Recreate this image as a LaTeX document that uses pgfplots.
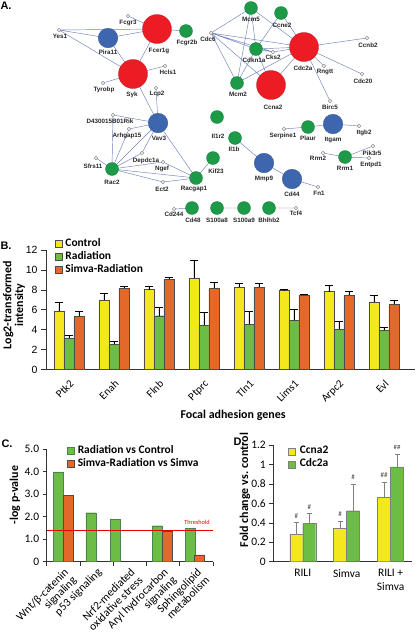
\documentclass[border=0pt]{standalone}
\usepackage{fontspec}
\setmainfont{Carlito}
\newfontfamily\arial{Liberation Sans}
\usepackage{pgfplots}
\pgfplotsset{compat=1.18}
\usepackage{pgfplotstable}
\definecolor{cY}{HTML}{F2E81C}
\definecolor{cG}{HTML}{6CBD45}
\definecolor{cO}{HTML}{E2692A}
\definecolor{nR}{HTML}{EC1C24}
\definecolor{nB}{HTML}{3E66AE}
\definecolor{nG}{HTML}{1C9A48}
\definecolor{eC}{HTML}{6F80BE}
\pgfplotsset{
  sq/.style={legend image code/.code={\draw[##1] (0bp,-3.5bp) rectangle (7bp,3.5bp);}},
}
\tikzset{lab/.style={font=\arial\bfseries\fontsize{6.3}{7}\selectfont, inner sep=0pt, text=black!85}}
\pgfplotstableread{
x c ce r re s se
0 5.90 0.85 3.15 0.27 5.34 0.53
1 6.98 0.64 2.52 0.33 8.15 0.17
2 8.02 0.30 5.40 0.88 9.06 0.17
3 9.19 1.78 4.43 1.27 8.15 0.60
4 8.26 0.34 4.53 1.34 8.26 0.40
5 7.92 0.17 4.97 1.07 7.48 0.07
6 7.82 0.64 4.06 0.81 7.48 0.34
7 6.78 0.67 3.96 0.23 6.54 0.44
}\dataB
\pgfplotstableread{
x a ae b be
0 0.286 0.117 0.393 0.104
1 0.345 0.075 0.524 0.276
2 0.662 0.155 0.975 0.135
}\dataD
\begin{document}
\begin{tikzpicture}
\path[use as bounding box] (0,0) rectangle (416bp,-633bp);

% ---------------- Panel A: network
\begin{axis}[at={(0bp,0bp)}, anchor=north west, scale only axis,
  width=416bp, height=215bp, xmin=0, xmax=416, ymin=0, ymax=215,
  y dir=reverse, hide axis, clip=false]
\addplot[eC, line width=0.45pt, mark=none, unbounded coords=jump] coordinates {
(59,30) (108,38) (0,nan)
(59,30) (157,29) (0,nan)
(59,30) (133,74) (0,nan)
(108,38) (157,29) (0,nan)
(108,38) (133,74) (0,nan)
(128,16) (157,29) (0,nan)
(157,29) (186,31) (0,nan)
(157,29) (133,74) (0,nan)
(133,74) (165,66) (0,nan)
(133,74) (103,83) (0,nan)
(133,74) (158,123) (0,nan)
(156,88) (158,123) (0,nan)
(158,123) (113,115) (0,nan)
(158,123) (129,129) (0,nan)
(158,123) (112,169) (0,nan)
(158,123) (196,178) (0,nan)
(158,123) (142,153) (0,nan)
(113,115) (112,169) (0,nan)
(129,129) (112,169) (0,nan)
(112,169) (96,158) (0,nan)
(112,169) (142,153) (0,nan)
(112,169) (163,162) (0,nan)
(112,169) (163,182) (0,nan)
(112,169) (196,178) (0,nan)
(163,162) (196,178) (0,nan)
(163,182) (196,178) (0,nan)
(196,178) (213,158) (0,nan)
(211,33) (251,8) (0,nan)
(211,33) (256,49) (0,nan)
(211,33) (304,47) (0,nan)
(211,33) (237,83) (0,nan)
(211,33) (271,85) (0,nan)
(211,33) (273,52) (0,nan)
(251,8) (237,83) (0,nan)
(251,8) (256,49) (0,nan)
(251,8) (304,47) (0,nan)
(281,13) (304,47) (0,nan)
(281,13) (256,49) (0,nan)
(256,49) (304,47) (0,nan)
(256,49) (237,83) (0,nan)
(256,49) (271,85) (0,nan)
(256,49) (273,52) (0,nan)
(237,83) (304,47) (0,nan)
(271,85) (304,47) (0,nan)
(304,47) (367,38) (0,nan)
(304,47) (324,66) (0,nan)
(304,47) (362,74) (0,nan)
(304,47) (330,101) (0,nan)
(273,52) (304,47) (0,nan)
(235,138) (264,163) (0,nan)
(264,163) (292,179) (0,nan)
(292,179) (318,187) (0,nan)
(284,129) (308,127) (0,nan)
(308,127) (333,124) (0,nan)
(333,124) (359,126) (0,nan)
(323,153) (345,157) (0,nan)
(345,157) (373,146) (0,nan)
(345,157) (369,158) (0,nan)
(174,209) (192,208) (0,nan)
(217,208) (244,208) (0,nan)
(269,208) (296,208)
};
% small grey nodes
\addplot[only marks, mark=*, mark size=1.8bp, mark options={fill=gray!15, draw=gray, line width=0.4pt}] coordinates {
(59,30) (128,16) (165,66) (103,83) (156,88) (113,115) (129,129) (96,158)
(142,153) (163,162) (163,182) (211,33) (273,52) (367,38) (324,66) (362,74)
(330,101) (284,129) (359,126) (318,187) (323,153) (373,146) (369,158) (174,209) (296,208)
};
% green nodes
\addplot[only marks, mark=*, mark size=6.5bp, mark options={fill=nG, draw=nG!80!black, line width=0.3pt}] coordinates {
(186,31) (112,169) (196,178) (213,158) (251,8) (281,13) (256,49) (237,83)
(217,117) (235,138) (308,127) (345,157) (192,208) (217,208) (244,208) (269,208)
};
% blue nodes
\addplot[only marks, mark=*, mark size=9.8bp, mark options={fill=nB, draw=nB!80!black, line width=0.3pt}] coordinates {
(108,38) (158,123) (264,163) (292,179) (333,124)
};
% red nodes
\addplot[only marks, mark=*, mark size=14.5bp, mark options={fill=nR, draw=nR!80!black, line width=0.3pt}] coordinates {
(157,29) (133,74) (304,47) (271,85)
};
\node[lab] at (axis cs:60,36) {Yes1};
\node[lab] at (axis cs:128,23) {Fcgr3};
\node[lab] at (axis cs:108,52) {Pira11};
\node[lab] at (axis cs:159,51) {Fcer1g};
\node[lab] at (axis cs:187,43) {Fcgr2b};
\node[lab] at (axis cs:168,72) {Hcls1};
\node[lab] at (axis cs:104,90) {Tyrobp};
\node[lab] at (axis cs:132,95) {Syk};
\node[lab] at (axis cs:157,94) {Lcp2};
\node[lab] at (axis cs:110,121) {D430015B01Rik};
\node[lab] at (axis cs:127,136) {Arhgap15};
\node[lab] at (axis cs:159,138) {Vav3};
\node[lab] at (axis cs:93,166) {Sfrs11};
\node[lab] at (axis cs:112,182) {Rac2};
\node[lab] at (axis cs:146,161) {Depdc1a};
\node[lab] at (axis cs:162,169) {Ngef};
\node[lab] at (axis cs:162,189) {Ect2};
\node[lab] at (axis cs:194,189) {Racgap1};
\node[lab] at (axis cs:216,171) {Kif23};
\node[lab] at (axis cs:251,19) {Mcm5};
\node[lab] at (axis cs:282,25) {Ccne2};
\node[lab] at (axis cs:208,39) {Cdc6};
\node[lab] at (axis cs:254,60) {Cdkn1a};
\node[lab] at (axis cs:273,57) {Cks2};
\node[lab] at (axis cs:303,68) {Cdc2a};
\node[lab] at (axis cs:368,45) {Ccnb2};
\node[lab] at (axis cs:325,72) {Rngtt};
\node[lab] at (axis cs:363,81) {Cdc20};
\node[lab] at (axis cs:238,94) {Mcm2};
\node[lab] at (axis cs:273,107) {Ccna2};
\node[lab] at (axis cs:330,107) {Birc5};
\node[lab] at (axis cs:218,136) {Il1r2};
\node[lab] at (axis cs:234,149) {Il1b};
\node[lab] at (axis cs:283,136) {Serpine1};
\node[lab] at (axis cs:308,138) {Plaur};
\node[lab] at (axis cs:333,140) {Itgam};
\node[lab] at (axis cs:364,133) {Itgb2};
\node[lab] at (axis cs:264,179) {Mmp9};
\node[lab] at (axis cs:292,194) {Cd44};
\node[lab] at (axis cs:319,193) {Fn1};
\node[lab] at (axis cs:318,158) {Rrm2};
\node[lab] at (axis cs:345,168) {Rrm1};
\node[lab] at (axis cs:372,153) {Pik3r5};
\node[lab] at (axis cs:371,165) {Entpd1};
\node[lab] at (axis cs:174,214) {Cd244};
\node[lab] at (axis cs:193,220) {Cd48};
\node[lab] at (axis cs:217,220) {S100a8};
\node[lab] at (axis cs:244,220) {S100a9};
\node[lab] at (axis cs:269,220) {Bhlhb2};
\node[lab] at (axis cs:296,213) {Tcf4};
\end{axis}

% ---------------- Panel B
\begin{axis}[at={(46bp,-369.5bp)}, anchor=south west, scale only axis,
  width=369bp, height=119.5bp, xmin=-0.51, xmax=7.69, ymin=0, ymax=12,
  axis x line*=bottom, axis y line*=left, axis line style={black!80, line width=0.6pt},
  tick align=outside, major tick length=5bp, tick style={black!80, line width=0.6pt},
  ytick={0,2,4,6,8,10,12}, yticklabels={0,2,4,6,8,10,12},
  yticklabel style={font=\arial\fontsize{10.5}{12}\selectfont},
  xtick={0,...,7}, xticklabels={Ptk2,Enah,Flnb,Ptprc,Tln1,Lims1,Arpc2,Evl},
  xticklabel style={rotate=45, anchor=north east, font=\fontsize{11}{13}\selectfont},
  major x tick style={draw=none},
  ybar=0pt, bar width=10bp,
  legend style={at={(0.024,1.105)}, anchor=north west, draw=none, fill=none, inner sep=0pt,
    row sep=0pt, column sep=3bp, font=\bfseries\fontsize{11.5}{13}\selectfont,
    nodes={inner sep=0pt, text height=9bp, text depth=4bp}},
  legend cell align=left]
\addplot[fill=cY, draw=black!70, line width=0.4pt, sq, error bars/.cd, y dir=plus, y explicit,
  error bar style={black, line width=0.8pt}, error mark options={black, rotate=90, mark size=4bp, line width=0.8pt}]
  table[x=x, y=c, y error=ce] {\dataB};
\addplot[fill=cG, draw=black!70, line width=0.4pt, sq, error bars/.cd, y dir=plus, y explicit,
  error bar style={black, line width=0.8pt}, error mark options={black, rotate=90, mark size=4bp, line width=0.8pt}]
  table[x=x, y=r, y error=re] {\dataB};
\addplot[fill=cO, draw=black!70, line width=0.4pt, sq, error bars/.cd, y dir=plus, y explicit,
  error bar style={black, line width=0.8pt}, error mark options={black, rotate=90, mark size=4bp, line width=0.8pt}]
  table[x=x, y=s, y error=se] {\dataB};
\legend{Control, Radiation, Simva-Radiation}
\end{axis}

% ---------------- Panel C
\begin{axis}[at={(46.7bp,-561.7bp)}, anchor=south west, scale only axis,
  width=166.3bp, height=112.4bp, xmin=0, xmax=5, ymin=0, ymax=5,
  axis x line*=bottom, axis y line*=left, axis line style={black!80, line width=0.6pt},
  tick align=outside, major tick length=4bp, minor tick length=4bp, tick style={black!80, line width=0.6pt},
  ytick={0,1,2,3,4,5}, yticklabels={0,1.0,2.0,3.0,4.0,5.0},
  yticklabel style={font=\fontsize{11.5}{13}\selectfont},
  xtick={0.5,1.5,2.5,3.5,4.5},
  xticklabels={{Wnt/β-catenin\\signaling},{p53 signaling},{Nrf2-mediated\\oxidative stress},{Aryl hydrocarbon\\signaling},{Sphingolipid\\metabolism}},
  xticklabel style={rotate=45, anchor=north east, align=right, inner sep=1bp, font=\fontsize{11.5}{11.5}\selectfont},
  major x tick style={draw=none}, minor xtick={0,1,2,3,4,5},
  ybar, bar width=10bp,
  legend style={at={(0.123,1.043)}, anchor=north west, draw=none, fill=none, inner sep=0pt,
    row sep=0pt, column sep=3bp, font=\bfseries\fontsize{11.5}{13}\selectfont,
    nodes={inner sep=0pt, text height=9bp, text depth=4bp}},
  legend cell align=left]
\addplot[bar shift=0pt, fill=cG, draw=green!30!black!70, line width=0.4pt, sq] coordinates {
(0.34,4.0) (1.33,2.18) (2.06,1.88) (3.33,1.6) (4.31,1.47)};
\addplot[bar shift=0pt, fill=cO, draw=black!70, line width=0.4pt, sq] coordinates {
(0.64,2.95) (3.63,1.35) (4.6,0.3)};
\addplot[sharp plot, red!90!black, line width=0.6pt, mark=none, forget plot] coordinates {(0,1.4) (5,1.4)};
\node[font=\fontsize{6.3}{7}\selectfont, text=red!90!black] at (axis cs:4.52,1.77) {Threshold};
\legend{Radiation vs Control, Simva-Radiation vs Simva}
\end{axis}

% ---------------- Panel D
\begin{axis}[at={(273.3bp,-561.7bp)}, anchor=south west, scale only axis,
  width=138.4bp, height=116.7bp, xmin=-0.67, xmax=2.48, ymin=0, ymax=1.2,
  axis x line*=bottom, axis y line*=left, axis line style={black!80, line width=0.6pt},
  tick align=outside, major tick length=4bp, tick style={black!80, line width=0.6pt},
  ytick={0,0.2,0.4,0.6,0.8,1,1.2}, yticklabels={0,0.2,0.4,0.6,0.8,1,1.2},
  yticklabel style={font=\fontsize{11.5}{13}\selectfont},
  xtick={0,1,2}, xticklabels={RILI,Simva,{RILI +\\Simva}},
  xticklabel style={align=center, anchor=north, font=\fontsize{11.5}{13.5}\selectfont},
  major x tick style={draw=none},
  ybar=0pt, bar width=13bp,
  legend style={at={(0.108,1.004)}, anchor=north west, draw=none, fill=none, inner sep=0pt,
    row sep=0pt, column sep=4bp, font=\bfseries\fontsize{11.5}{13}\selectfont,
    nodes={inner sep=0pt, text height=9bp, text depth=4bp}},
  legend cell align=left]
\addplot[fill=cY, draw=gray, line width=0.4pt, sq, error bars/.cd, y dir=plus, y explicit,
  error bar style={gray, line width=0.5pt}, error mark options={gray, rotate=90, mark size=2.5bp, line width=0.5pt}]
  table[x=x, y=a, y error=ae] {\dataD};
\addplot[fill=cG, draw=gray, line width=0.4pt, sq, error bars/.cd, y dir=plus, y explicit,
  error bar style={gray, line width=0.5pt}, error mark options={gray, rotate=90, mark size=2.5bp, line width=0.5pt}]
  table[x=x, y=b, y error=be] {\dataD};
\legend{Ccna2, Cdc2a}
\node[font=\fontsize{7}{8}\selectfont, text=black!75, anchor=south] at (axis cs:-0.148,0.41) {\#};
\node[font=\fontsize{7}{8}\selectfont, text=black!75, anchor=south] at (axis cs:0.148,0.505) {\#};
\node[font=\fontsize{7}{8}\selectfont, text=black!75, anchor=south] at (axis cs:0.852,0.43) {\#};
\node[font=\fontsize{7}{8}\selectfont, text=black!75, anchor=south] at (axis cs:1.148,0.81) {\#};
\node[font=\fontsize{7}{8}\selectfont, text=black!75, anchor=south] at (axis cs:1.852,0.83) {\#\#};
\node[font=\fontsize{7}{8}\selectfont, text=black!75, anchor=south] at (axis cs:2.148,1.12) {\#\#};
\end{axis}

% ---------------- panel letters and axis titles
\node[font=\arial\bfseries\fontsize{11}{13}\selectfont] at (6bp,-6bp) {A.};
\node[font=\arial\bfseries\fontsize{11}{13}\selectfont] at (6bp,-246bp) {B.};
\node[font=\arial\bfseries\fontsize{11}{13}\selectfont] at (7bp,-444bp) {C.};
\node[font=\arial\bfseries\fontsize{11}{13}\selectfont] at (239bp,-442bp) {D.};
\node[rotate=90, align=center, font=\bfseries\fontsize{12}{12}\selectfont] at (14bp,-305bp) {Log2-transformed\\intensity};
\node[font=\bfseries\fontsize{12}{13}\selectfont] at (233bp,-415bp) {Focal adhesion genes};
\node[rotate=90, font=\bfseries\fontsize{12}{13}\selectfont] at (15bp,-495bp) {-log p-value};
\node[rotate=90, font=\bfseries\fontsize{12}{13}\selectfont] at (245bp,-490bp) {Fold change vs. control};
\end{tikzpicture}
\end{document}
